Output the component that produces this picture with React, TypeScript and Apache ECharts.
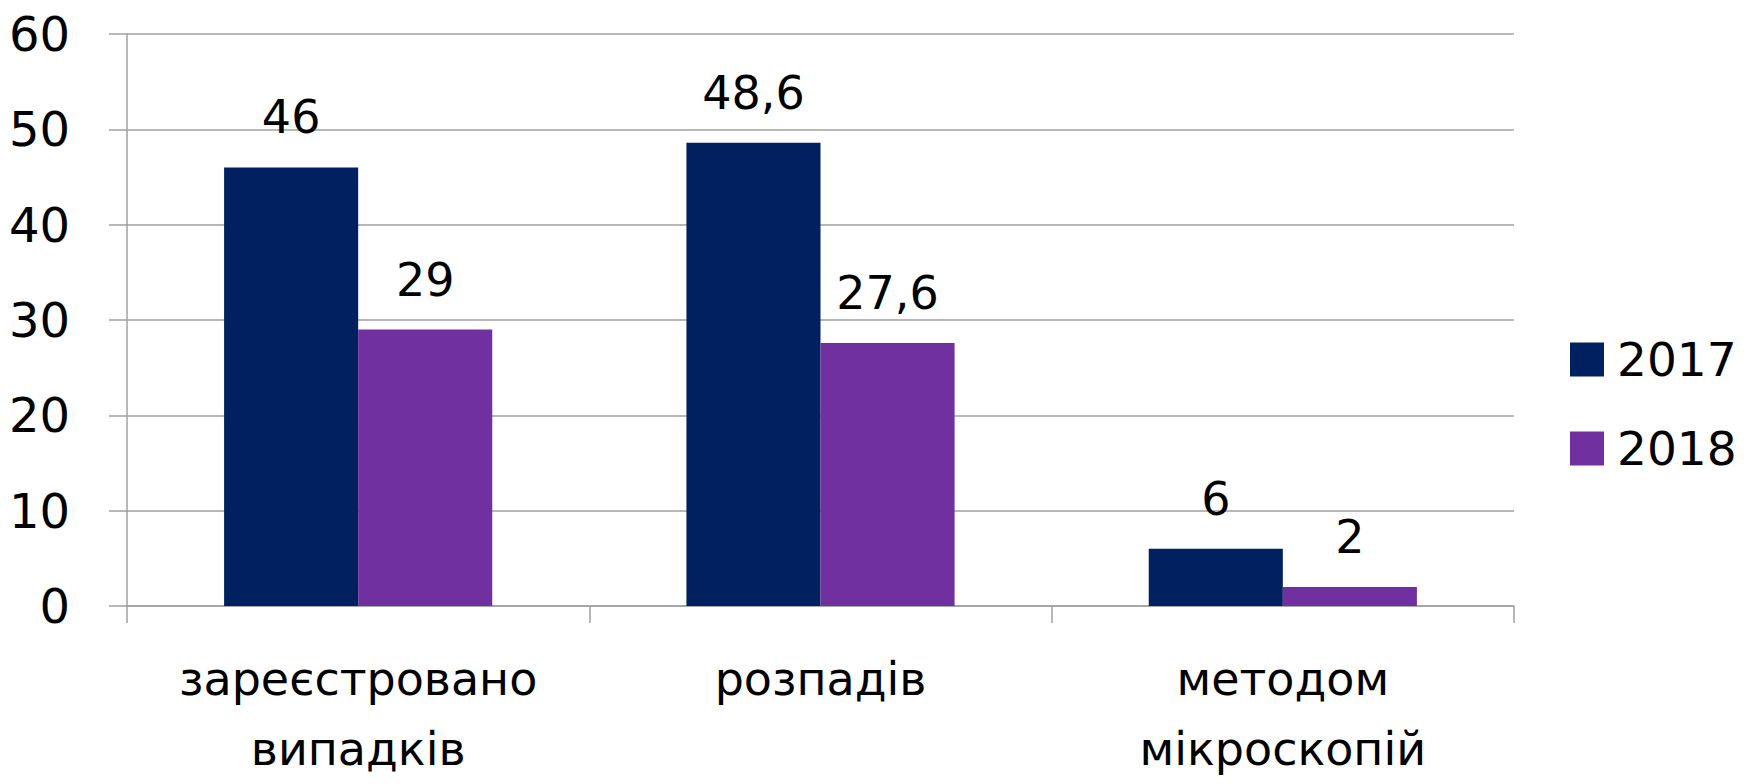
import React, { useEffect, useRef } from "react";
import * as echarts from "echarts";

const categories = ["зареєстровано випадків", "розпадів", "методом мікроскопій"];
const seriesNames = ["2017", "2018"];
const values2017 = [46, 48.6, 6];
const values2018 = [29, 27.6, 2];
const yTicks = { min: 0, max: 60, interval: 10 };
const colors = ["#002060", "#7030A0"];

const FONT = "'DejaVu Sans', 'Noto Sans', sans-serif";

export default function App() {
  const ref = useRef<HTMLDivElement>(null);
  useEffect(() => {
    if (!ref.current) return;
    const chart = echarts.init(ref.current, undefined, { renderer: "svg" });
    const fmt = (p: any) => String(p.value).replace(".", ",");
    chart.setOption({
      animation: false,
      textStyle: { fontFamily: FONT },
      grid: { left: 127, right: 238, top: 34, bottom: 170 },
      legend: {
        orient: "vertical",
        left: 1565,
        top: 331,
        itemWidth: 34,
        itemHeight: 34,
        itemGap: 42,
        icon: "rect",
        data: seriesNames,
        textStyle: { fontSize: 47, lineHeight: 47, color: "#000", fontFamily: FONT, padding: [0, 0, 0, 8] },
      },
      xAxis: {
        type: "category",
        data: categories,
        axisLine: { show: true, lineStyle: { color: "#a0a0a0", width: 1.5 } },
        axisTick: { show: true, interval: 0, length: 17, lineStyle: { color: "#a0a0a0", width: 1.5 } },
        axisLabel: {
          interval: 0,
          hideOverlap: false,
          fontSize: 46,
          lineHeight: 70,
          color: "#000",
          margin: 38,
          fontFamily: FONT,
          formatter: (v: string) => v.replace(" ", "\n"),
        },
      },
      yAxis: {
        type: "value",
        min: yTicks.min,
        max: yTicks.max,
        interval: yTicks.interval,
        axisLine: { show: true, lineStyle: { color: "#a0a0a0", width: 1.5 } },
        axisTick: { show: true, length: 18, lineStyle: { color: "#a0a0a0", width: 1.5 } },
        splitLine: { show: true, lineStyle: { color: "#a0a0a0", width: 1.5 } },
        axisLabel: {
          fontSize: 48,
          color: "#000",
          margin: 57,
          align: "right",
          fontFamily: FONT,
          verticalAlign: "middle",
          lineHeight: 48,
          padding: [0, 0, 14, 0],
        },
      },
      series: [
        {
          name: seriesNames[0],
          type: "bar",
          data: values2017,
          itemStyle: { color: colors[0] },
          barGap: "0%",
          barCategoryGap: "42%",
          label: { show: true, position: "top", distance: 27, fontSize: 46, color: "#000", fontFamily: FONT, formatter: fmt },
        },
        {
          name: seriesNames[1],
          type: "bar",
          data: values2018,
          itemStyle: { color: colors[1] },
          barGap: "0%",
          barCategoryGap: "42%",
          label: { show: true, position: "top", distance: 27, fontSize: 46, color: "#000", fontFamily: FONT, formatter: fmt },
        },
      ],
    });
    return () => chart.dispose();
  }, []);
  return <div ref={ref} style={{ position: "absolute", left: 0, top: 0, width: 1752, height: 784 }} />;
}
